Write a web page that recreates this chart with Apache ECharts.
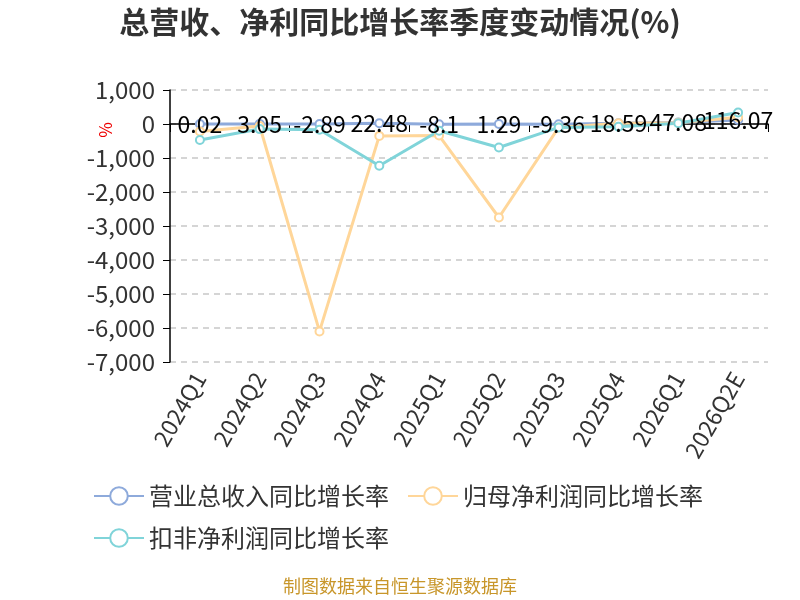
<!DOCTYPE html>
<html>
<head>
<meta charset="utf-8">
<script src="https://cdn.jsdelivr.net/npm/echarts@6/dist/echarts.min.js"></script>
<style>
    html, body { margin: 0; padding: 0; background: #fff; }
    #main { width: 800px; height: 600px; }
</style>
</head>
<body>
<div id="main"></div>
<script>
// 季度
var quarters = ['2024Q1', '2024Q2', '2024Q3', '2024Q4', '2025Q1', '2025Q2', '2025Q3', '2025Q4', '2026Q1', '2026Q2E'];
// 营业总收入同比增长率
var revenueYoy = [0.02, 3.05, -2.89, 22.48, -8.1, 1.29, -9.36, 18.59, 47.08, 116.07];
// 归母净利润同比增长率（图上估读）
var netProfitYoy = [-220, -60, -6100, -350, -340, -2750, -100, 20, 40, 200];
// 扣非净利润同比增长率（图上估读）
var deductedYoy = [-470, -150, -170, -1230, -200, -690, -100, -80, 20, 340];

var legendNames = ['营业总收入同比增长率', '归母净利润同比增长率', '扣非净利润同比增长率'];
var colors = ['#8eaadb', '#ffd699', '#80d4d9'];

var chart = echarts.init(document.getElementById('main'));

var fontFamily = '"Noto Sans CJK SC", "Noto Sans", sans-serif';

function makeLine(name, data, color, withLabel) {
    return {
        name: name,
        type: 'line',
        data: data,
        symbol: 'emptyCircle',
        symbolSize: 8,
        lineStyle: { width: 3, color: color },
        itemStyle: { color: color, borderWidth: 2 },
        label: {
            show: withLabel,
            position: 'inside',
            color: '#000',
            fontSize: 23,
            fontFamily: fontFamily
        }
    };
}

var option = {
    backgroundColor: '#fff',
    color: colors,
    title: {
        text: '总营收、净利同比增长率季度变动情况(%)',
        left: 'center',
        top: 2,
        textStyle: {
            fontSize: 30,
            fontWeight: 'bold',
            color: '#333',
            fontFamily: fontFamily
        }
    },
    legend: {
        data: legendNames,
        left: 88,
        top: 479,
        width: 660,
        itemWidth: 50,
        itemHeight: 22,
        itemGap: 18,
        textStyle: { fontSize: 24, color: '#333', fontFamily: fontFamily }
    },
    grid: {
        left: 170,
        right: 32,
        top: 90,
        bottom: 238
    },
    xAxis: [
        {
            type: 'category',
            data: quarters,
            axisLine: { onZero: true, lineStyle: { color: '#000', width: 1.5 } },
            axisTick: { show: true, length: 8, lineStyle: { color: '#000' } },
            axisLabel: { show: false }
        },
        {
            type: 'category',
            data: quarters,
            position: 'bottom',
            axisLine: { show: false, onZero: false },
            axisTick: { show: false },
            axisLabel: {
                rotate: 60,
                fontSize: 23,
                color: '#333',
                margin: 12,
                fontFamily: fontFamily
            }
        }
    ],
    yAxis: {
        type: 'value',
        min: -7000,
        max: 1000,
        interval: 1000,
        axisLine: { show: true, lineStyle: { color: '#000', width: 1.5 } },
        axisTick: { show: true, length: 7, lineStyle: { color: '#000' } },
        axisLabel: {
            fontSize: 24,
            color: '#333',
            margin: 15,
            fontFamily: fontFamily,
            formatter: function (v) { return v.toLocaleString('en-US'); }
        },
        splitLine: { lineStyle: { type: [6, 5], color: '#c8c8c8', width: 1.5 } }
    },
    graphic: [
        {
            type: 'text',
            left: 97,
            top: 122,
            rotation: Math.PI / 2,
            style: { text: '%', fill: '#e00', fontSize: 17, fontFamily: fontFamily }
        },
        {
            type: 'text',
            left: 'center',
            top: 577,
            style: { text: '制图数据来自恒生聚源数据库', fill: '#c8962a', fontSize: 18, fontFamily: fontFamily }
        }
    ],
    series: [
        makeLine(legendNames[0], revenueYoy, colors[0], true),
        makeLine(legendNames[1], netProfitYoy, colors[1], false),
        makeLine(legendNames[2], deductedYoy, colors[2], false)
    ]
};

chart.setOption(option);
</script>
</body>
</html>
